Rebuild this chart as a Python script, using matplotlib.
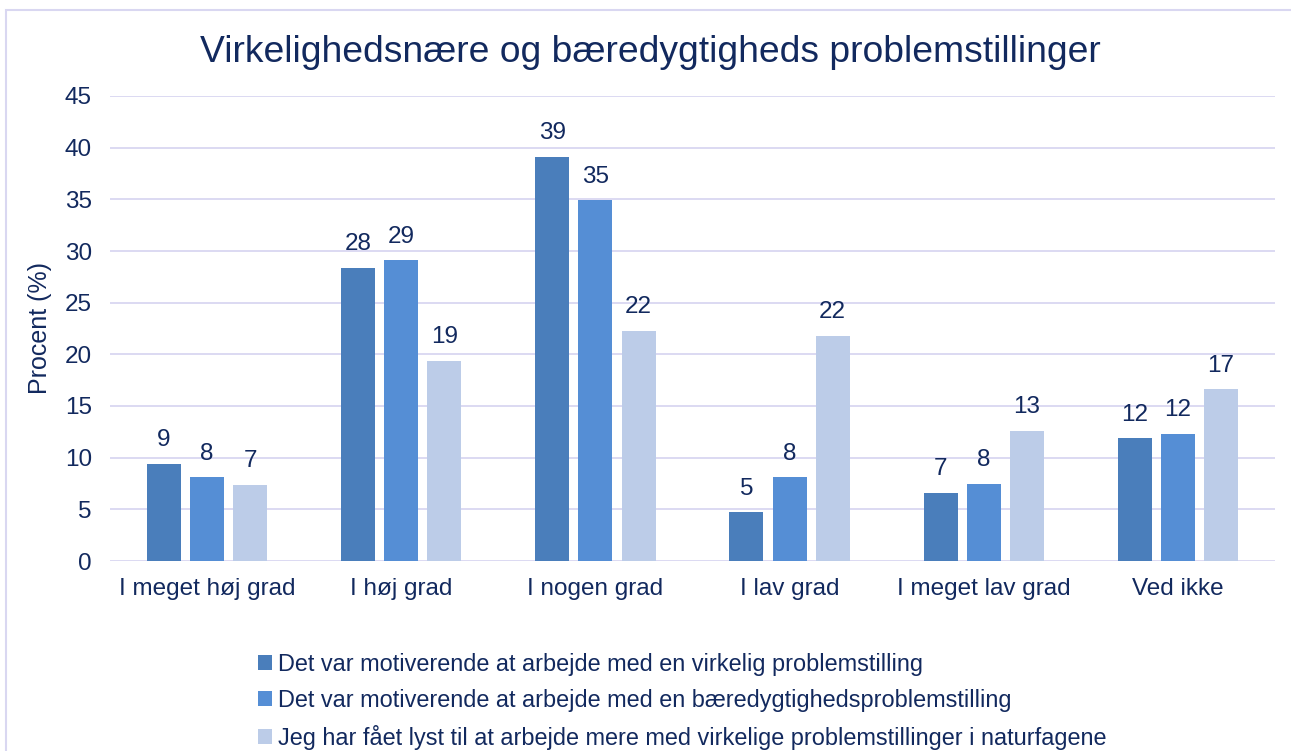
import numpy as np
import matplotlib
matplotlib.use("Agg")
import matplotlib.pyplot as plt
from matplotlib.patches import Rectangle

categories = ["I meget høj grad", "I høj grad", "I nogen grad",
              "I lav grad", "I meget lav grad", "Ved ikke"]
series_names = [
    "Det var motiverende at arbejde med en virkelig problemstilling",
    "Det var motiverende at arbejde med en bæredygtighedsproblemstilling",
    "Jeg har fået lyst til at arbejde mere med virkelige problemstillinger i naturfagene",
]
virkelig = [9.4, 28.4, 39.1, 4.7, 6.6, 11.9]
baeredygtig = [8.1, 29.1, 34.9, 8.1, 7.5, 12.3]
lyst = [7.4, 19.4, 22.3, 21.8, 12.6, 16.6]
yticks = [0, 5, 10, 15, 20, 25, 30, 35, 40, 45]

colors = ["#4A7EBB", "#558ED5", "#BCCCE8"]
text_color = "#12295E"
grid_color = "#D9D7F1"

plt.rcParams['font.family'] = ['Liberation Sans', 'DejaVu Sans']

fig = plt.figure(figsize=(12.91, 7.51), dpi=100)
ax = fig.add_axes([110 / 1291, 1 - 561 / 751, 1165 / 1291, 465 / 751])

x = np.arange(len(categories))
width = 0.175
step = 0.222
for i, vals in enumerate([virkelig, baeredygtig, lyst]):
    bars = ax.bar(x + (i - 1) * step, vals, width, color=colors[i],
                  label=series_names[i], zorder=3)
    ax.bar_label(bars, labels=[f"{v:.0f}" for v in vals], padding=9,
                 fontsize=17.5, color=text_color)

ax.set_xlim(-0.5, len(categories) - 0.5)
ax.set_ylim(0, 45)
ax.set_yticks(yticks)
ax.set_xticks(x)
ax.set_xticklabels(categories)
ax.tick_params(axis="both", length=0, labelsize=17.5, colors=text_color)
ax.tick_params(axis="x", pad=12)
ax.tick_params(axis="y", pad=13)
ax.grid(axis="y", color=grid_color, linewidth=1.3, zorder=0)
for s in ax.spines.values():
    s.set_visible(False)
ax.set_ylabel("Procent (%)", fontsize=18, color=text_color, labelpad=9)

fig.text(650 / 1291, 1 - 52 / 751, "Virkelighedsnære og bæredygtigheds problemstillinger",
         ha="center", va="center", fontsize=26.8, color=text_color)

handles, labels = ax.get_legend_handles_labels()
fig.legend(handles, labels, loc="upper left",
           bbox_to_anchor=(237 / 1291, 1 - 632 / 751), frameon=False,
           fontsize=16.9, labelcolor=text_color, handlelength=0.6,
           handleheight=0.6, handletextpad=0.25, labelspacing=0.55)

# figure border
fig.patches.append(Rectangle((6 / 1291, -0.05), 1.1, 1 - 10 / 751 + 0.05,
                             transform=fig.transFigure, fill=False,
                             edgecolor=grid_color, linewidth=1.5))

plt.savefig("out.png", dpi=100)
